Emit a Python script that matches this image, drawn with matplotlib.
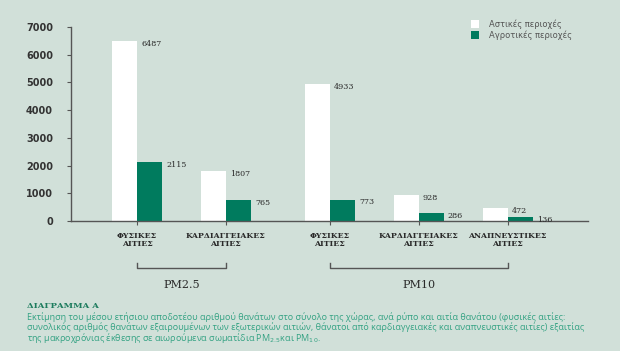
import numpy as np
import matplotlib.pyplot as plt
import matplotlib.transforms as mtransforms
from matplotlib.patches import Patch

# data
categories = ['ΦΥΣΙΚΕΣ\nΑΙΤΙΕΣ', 'ΚΑΡΔΙΑΓΓΕΙΑΚΕΣ\nΑΙΤΙΕΣ',
              'ΦΥΣΙΚΕΣ\nΑΙΤΙΕΣ', 'ΚΑΡΔΙΑΓΓΕΙΑΚΕΣ\nΑΙΤΙΕΣ', 'ΑΝΑΠΝΕΥΣΤΙΚΕΣ\nΑΙΤΙΕΣ']
pollutant_groups = ['PM2.5', 'PM10']
group_of = [0, 0, 1, 1, 1]
urban = [6487, 1807, 4933, 928, 472]
rural = [2115, 765, 773, 286, 136]
legend_labels = ['Αστικές περιοχές', 'Αγροτικές περιοχές']

title = 'ΔΙΑΓΡΑΜΜΑ Α'
caption_lines = [
    'Εκτίμηση του μέσου ετήσιου αποδοτέου αριθμού θανάτων στο σύνολο της χώρας, ανά ρύπο και αιτία θανάτου (φυσικές αιτίες:',
    'συνολικός αριθμός θανάτων εξαιρουμένων των εξωτερικών αιτιών, θάνατοι από καρδιαγγειακές και αναπνευστικές αιτίες) εξαιτίας',
    'της μακροχρόνιας έκθεσης σε αιωρούμενα σωματίδια PM$_{2.5}$και PM$_{10}$.',
]

bg = '#d1e0d9'
green = '#007b5e'
teal = '#34a283'
axis_col = '#555555'

fig = plt.figure(figsize=(6.2, 3.51), dpi=100, facecolor=bg)
ax = fig.add_axes([0.1145, 0.3704, 0.8335, 0.5526])
ax.set_facecolor(bg)

gap = 0.17
x = np.arange(len(categories)) + gap * np.array(group_of)
w = 0.28

ax.bar(x - w / 2, urban, w, color='white', zorder=2)
ax.bar(x + w / 2, rural, w, color=green, zorder=2)

for xi, u, r in zip(x, urban, rural):
    ax.annotate(str(u), (xi, u), xytext=(3, -2), textcoords='offset points',
                va='center', ha='left', fontsize=5.8, family='DejaVu Serif', color='#2a2a2a')
    ax.annotate(str(r), (xi + w, r), xytext=(3, -2), textcoords='offset points',
                va='center', ha='left', fontsize=5.8, family='DejaVu Serif', color='#2a2a2a')

ax.set_xlim(-0.742, 5.07)
ax.set_ylim(0, 7000)
ax.set_yticks(range(0, 7001, 1000))
ax.set_xticks(x)
ax.set_xticklabels(categories, family='DejaVu Serif', fontweight='bold', fontsize=5.6,
                   color='#2a2a2a', linespacing=1.0)
for lab in ax.get_yticklabels():
    lab.set_fontweight('bold')
ax.tick_params(axis='y', labelsize=7, labelcolor='#333333', length=3, color=axis_col, pad=10)
ax.tick_params(axis='x', length=3, color=axis_col, pad=5)
for s in ['top', 'right']:
    ax.spines[s].set_visible(False)
for s in ['left', 'bottom']:
    ax.spines[s].set_color(axis_col)
    ax.spines[s].set_linewidth(1)

# brackets for pollutant groups
trans = mtransforms.blended_transform_factory(ax.transData, fig.transFigure)
yb = 1 - 268 / 351
yt = 1 - 263 / 351
for g, name in enumerate(pollutant_groups):
    xs = [xi for xi, gi in zip(x, group_of) if gi == g]
    ax.plot([xs[0], xs[0], xs[-1], xs[-1]], [yt, yb, yb, yt], transform=trans,
            color=axis_col, lw=1, clip_on=False)
    ax.text((xs[0] + xs[-1]) / 2, 1 - 285 / 351, name, transform=trans, ha='center', va='center',
            family='DejaVu Serif', fontsize=8, color='#2a2a2a')

handles = [Patch(facecolor='white', edgecolor='none'), Patch(facecolor=green, edgecolor='none')]
leg = fig.legend(handles, legend_labels, loc='upper left', bbox_to_anchor=(0.748, 0.966),
                 frameon=False, fontsize=6, handlelength=0.9, handleheight=1.1,
                 handletextpad=1.2, labelspacing=0.22)
for t in leg.get_texts():
    t.set_color('#555555')

fig.text(27 / 620, 1 - 306 / 351, title, color='#1d7c5e', fontsize=6.1, fontweight='bold',
         family='DejaVu Serif', va='center')
for i, line in enumerate(caption_lines):
    fig.text(27 / 620, 1 - (317 + 10.5 * i) / 351, line, color=teal, fontsize=6.45,
             family='Open Sans', va='center')

fig.savefig('out.png', dpi=100, facecolor=bg)
